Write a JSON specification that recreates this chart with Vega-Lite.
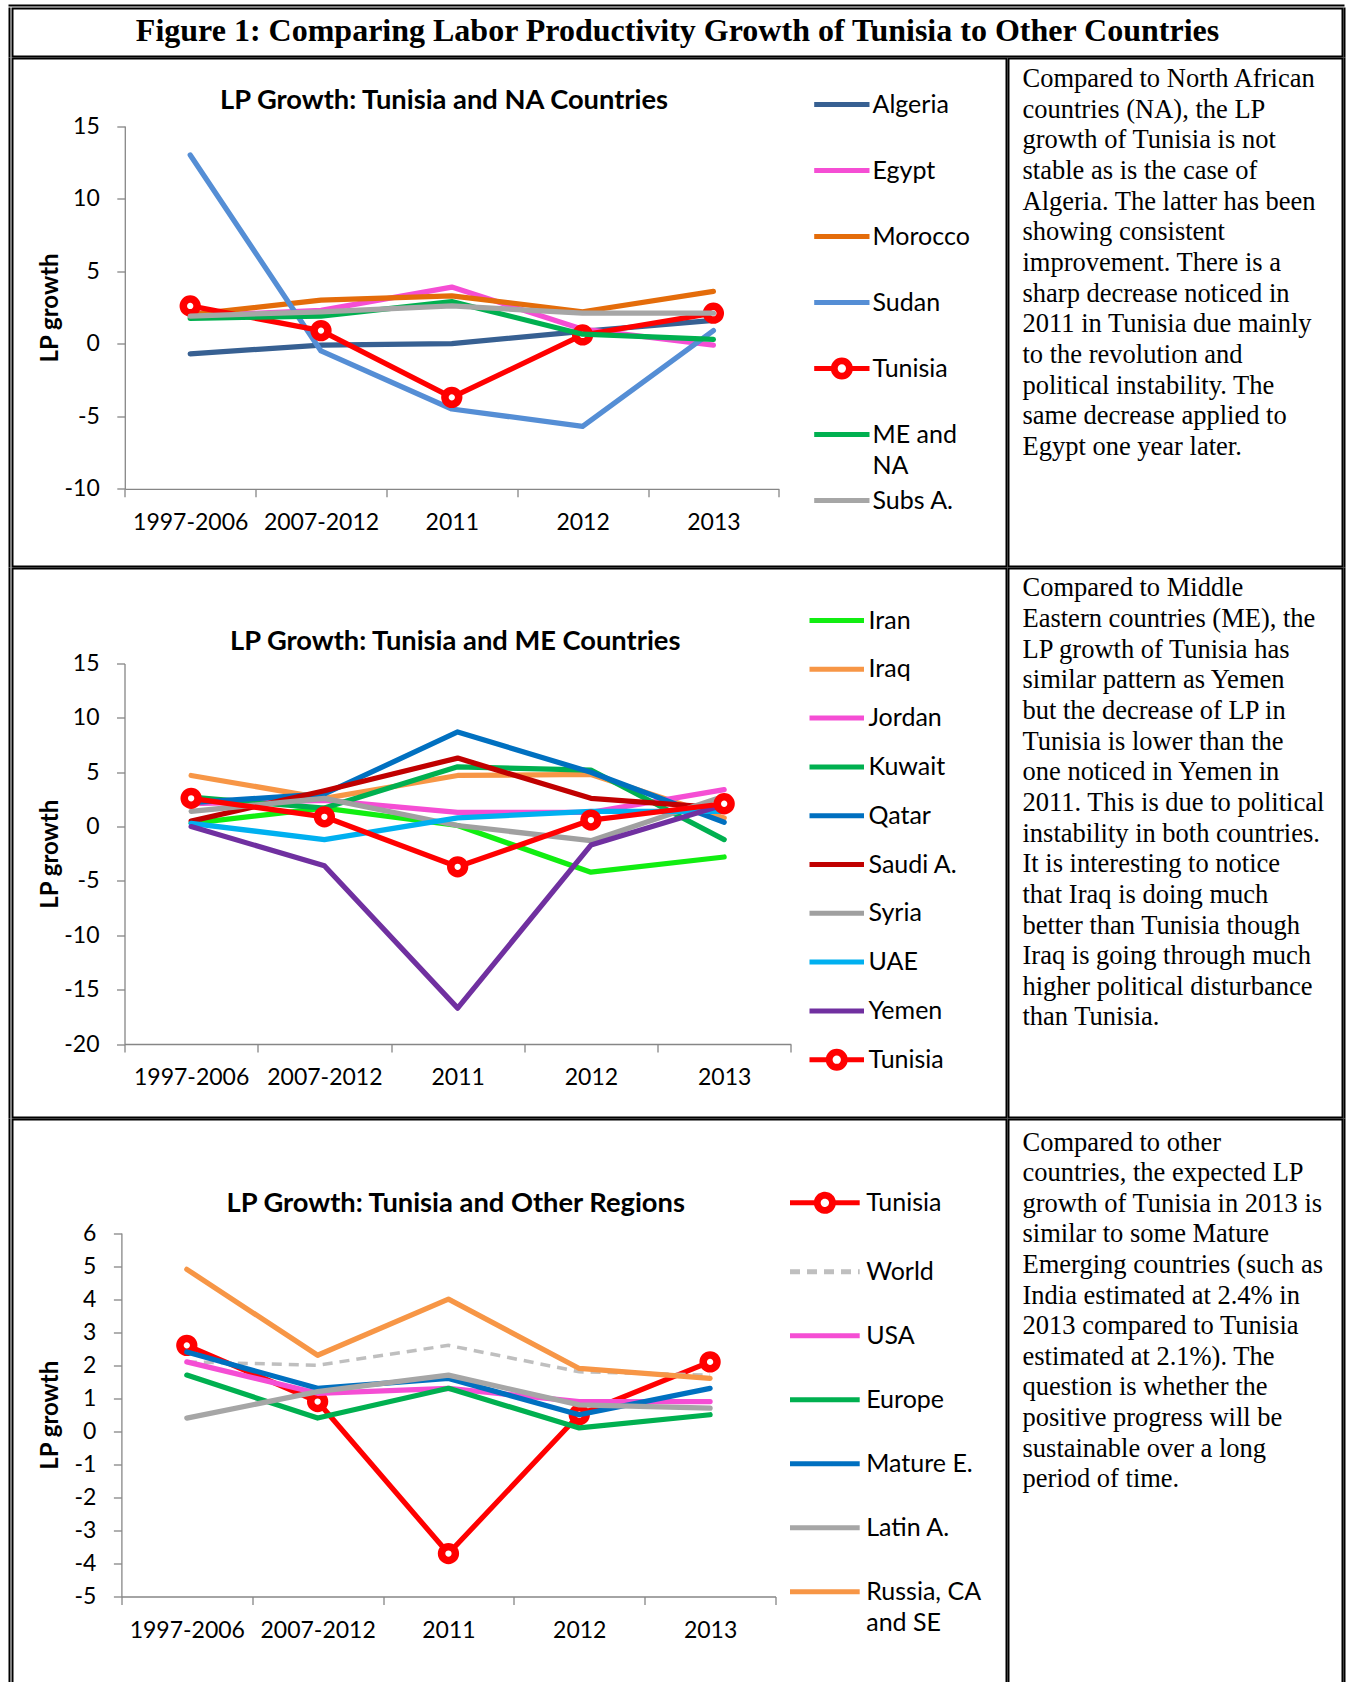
{
"$schema": "https://vega.github.io/schema/vega-lite/v6.json",
"background": "white",
"padding": {"left": 8.5, "top": 4.5, "right": 0, "bottom": 0},
"autosize": {"type": "pad"},
"config": {"view": {"stroke": "black", "strokeWidth": 2}, "font": "Lato"},
"datasets": {
"na": [
{"series":"Algeria","period":"1997-2006","value":-0.7},{"series":"Algeria","period":"2007-2012","value":-0.1},{"series":"Algeria","period":"2011","value":0.0},{"series":"Algeria","period":"2012","value":0.85},{"series":"Algeria","period":"2013","value":1.6},
{"series":"Egypt","period":"1997-2006","value":1.9},{"series":"Egypt","period":"2007-2012","value":2.3},{"series":"Egypt","period":"2011","value":3.9},{"series":"Egypt","period":"2012","value":1.0},{"series":"Egypt","period":"2013","value":-0.1},
{"series":"Morocco","period":"1997-2006","value":2.0},{"series":"Morocco","period":"2007-2012","value":3.0},{"series":"Morocco","period":"2011","value":3.3},{"series":"Morocco","period":"2012","value":2.2},{"series":"Morocco","period":"2013","value":3.6},
{"series":"Sudan","period":"1997-2006","value":13.0},{"series":"Sudan","period":"2007-2012","value":-0.5},{"series":"Sudan","period":"2011","value":-4.5},{"series":"Sudan","period":"2012","value":-5.7},{"series":"Sudan","period":"2013","value":0.9},
{"series":"Tunisia","period":"1997-2006","value":2.6},{"series":"Tunisia","period":"2007-2012","value":0.9},{"series":"Tunisia","period":"2011","value":-3.7},{"series":"Tunisia","period":"2012","value":0.6},{"series":"Tunisia","period":"2013","value":2.1},
{"series":"ME and NA","period":"1997-2006","value":1.75},{"series":"ME and NA","period":"2007-2012","value":1.9},{"series":"ME and NA","period":"2011","value":2.9},{"series":"ME and NA","period":"2012","value":0.65},{"series":"ME and NA","period":"2013","value":0.3},
{"series":"Subs A.","period":"1997-2006","value":1.9},{"series":"Subs A.","period":"2007-2012","value":2.2},{"series":"Subs A.","period":"2011","value":2.6},{"series":"Subs A.","period":"2012","value":2.1},{"series":"Subs A.","period":"2013","value":2.1}
],
"me": [
{"series":"Iran","period":"1997-2006","value":0.3},{"series":"Iran","period":"2007-2012","value":1.7},{"series":"Iran","period":"2011","value":0.1},{"series":"Iran","period":"2012","value":-4.2},{"series":"Iran","period":"2013","value":-2.8},
{"series":"Iraq","period":"1997-2006","value":4.7},{"series":"Iraq","period":"2007-2012","value":2.6},{"series":"Iraq","period":"2011","value":4.7},{"series":"Iraq","period":"2012","value":4.8},{"series":"Iraq","period":"2013","value":0.8},
{"series":"Jordan","period":"1997-2006","value":2.1},{"series":"Jordan","period":"2007-2012","value":2.4},{"series":"Jordan","period":"2011","value":1.3},{"series":"Jordan","period":"2012","value":1.3},{"series":"Jordan","period":"2013","value":3.4},
{"series":"Kuwait","period":"1997-2006","value":2.7},{"series":"Kuwait","period":"2007-2012","value":1.7},{"series":"Kuwait","period":"2011","value":5.5},{"series":"Kuwait","period":"2012","value":5.2},{"series":"Kuwait","period":"2013","value":-1.2},
{"series":"Qatar","period":"1997-2006","value":2.2},{"series":"Qatar","period":"2007-2012","value":3.0},{"series":"Qatar","period":"2011","value":8.7},{"series":"Qatar","period":"2012","value":5.0},{"series":"Qatar","period":"2013","value":0.4},
{"series":"Saudi A.","period":"1997-2006","value":0.5},{"series":"Saudi A.","period":"2007-2012","value":3.3},{"series":"Saudi A.","period":"2011","value":6.3},{"series":"Saudi A.","period":"2012","value":2.6},{"series":"Saudi A.","period":"2013","value":1.7},
{"series":"Syria","period":"1997-2006","value":1.4},{"series":"Syria","period":"2007-2012","value":2.6},{"series":"Syria","period":"2011","value":0.1},{"series":"Syria","period":"2012","value":-1.3},{"series":"Syria","period":"2013","value":2.8},
{"series":"UAE","period":"1997-2006","value":0.3},{"series":"UAE","period":"2007-2012","value":-1.2},{"series":"UAE","period":"2011","value":0.8},{"series":"UAE","period":"2012","value":1.4},{"series":"UAE","period":"2013","value":1.4},
{"series":"Yemen","period":"1997-2006","value":0.0},{"series":"Yemen","period":"2007-2012","value":-3.6},{"series":"Yemen","period":"2011","value":-16.7},{"series":"Yemen","period":"2012","value":-1.7},{"series":"Yemen","period":"2013","value":2.0},
{"series":"Tunisia","period":"1997-2006","value":2.6},{"series":"Tunisia","period":"2007-2012","value":0.9},{"series":"Tunisia","period":"2011","value":-3.7},{"series":"Tunisia","period":"2012","value":0.6},{"series":"Tunisia","period":"2013","value":2.1}
],
"oth": [
{"series":"Tunisia","period":"1997-2006","value":2.6},{"series":"Tunisia","period":"2007-2012","value":0.9},{"series":"Tunisia","period":"2011","value":-3.7},{"series":"Tunisia","period":"2012","value":0.5},{"series":"Tunisia","period":"2013","value":2.1},
{"series":"World","period":"1997-2006","value":2.1},{"series":"World","period":"2007-2012","value":2.0},{"series":"World","period":"2011","value":2.6},{"series":"World","period":"2012","value":1.8},{"series":"World","period":"2013","value":1.7},
{"series":"USA","period":"1997-2006","value":2.1},{"series":"USA","period":"2007-2012","value":1.15},{"series":"USA","period":"2011","value":1.3},{"series":"USA","period":"2012","value":0.9},{"series":"USA","period":"2013","value":0.9},
{"series":"Europe","period":"1997-2006","value":1.7},{"series":"Europe","period":"2007-2012","value":0.4},{"series":"Europe","period":"2011","value":1.3},{"series":"Europe","period":"2012","value":0.1},{"series":"Europe","period":"2013","value":0.5},
{"series":"Mature E.","period":"1997-2006","value":2.4},{"series":"Mature E.","period":"2007-2012","value":1.3},{"series":"Mature E.","period":"2011","value":1.6},{"series":"Mature E.","period":"2012","value":0.5},{"series":"Mature E.","period":"2013","value":1.3},
{"series":"Latin A.","period":"1997-2006","value":0.4},{"series":"Latin A.","period":"2007-2012","value":1.2},{"series":"Latin A.","period":"2011","value":1.7},{"series":"Latin A.","period":"2012","value":0.8},{"series":"Latin A.","period":"2013","value":0.7},
{"series":"Russia, CA and SE","period":"1997-2006","value":4.9},{"series":"Russia, CA and SE","period":"2007-2012","value":2.3},{"series":"Russia, CA and SE","period":"2011","value":4.0},{"series":"Russia, CA and SE","period":"2012","value":1.9},{"series":"Russia, CA and SE","period":"2013","value":1.6}
],
"t1": [
{"line":0,"text":"Compared to North African"},{"line":1,"text":"countries (NA), the LP"},{"line":2,"text":"growth of Tunisia is not"},{"line":3,"text":"stable as is the case of"},{"line":4,"text":"Algeria. The latter has been"},{"line":5,"text":"showing consistent"},{"line":6,"text":"improvement. There is a"},{"line":7,"text":"sharp decrease noticed in"},{"line":8,"text":"2011 in Tunisia due mainly"},{"line":9,"text":"to the revolution and"},{"line":10,"text":"political instability. The"},{"line":11,"text":"same decrease applied to"},{"line":12,"text":"Egypt one year later."}
],
"t2": [
{"line":0,"text":"Compared to Middle"},{"line":1,"text":"Eastern countries (ME), the"},{"line":2,"text":"LP growth of Tunisia has"},{"line":3,"text":"similar pattern as Yemen"},{"line":4,"text":"but the decrease of LP in"},{"line":5,"text":"Tunisia is lower than the"},{"line":6,"text":"one noticed in Yemen in"},{"line":7,"text":"2011. This is due to political"},{"line":8,"text":"instability in both countries."},{"line":9,"text":"It is interesting to notice"},{"line":10,"text":"that Iraq is doing much"},{"line":11,"text":"better than Tunisia though"},{"line":12,"text":"Iraq is going through much"},{"line":13,"text":"higher political disturbance"},{"line":14,"text":"than Tunisia."}
],
"t3": [
{"line":0,"text":"Compared to other"},{"line":1,"text":"countries, the expected LP"},{"line":2,"text":"growth of Tunisia in 2013 is"},{"line":3,"text":"similar to some Mature"},{"line":4,"text":"Emerging countries (such as"},{"line":5,"text":"India estimated at 2.4% in"},{"line":6,"text":"2013 compared to Tunisia"},{"line":7,"text":"estimated at 2.1%). The"},{"line":8,"text":"question is whether the"},{"line":9,"text":"positive progress will be"},{"line":10,"text":"sustainable over a long"},{"line":11,"text":"period of time."}
]
},
"spacing": 0,
"resolve": {"scale": {"color": "independent", "x": "independent", "y": "independent"}, "legend": {"color": "independent"}},
"vconcat": [
{
"width": 1334, "height": 0.01,
"data": {"values": []},
"mark": {"type": "point", "opacity": 0},
"encoding": {"x": {"datum": 0, "type": "quantitative", "axis": null}, "y": {"datum": 0, "type": "quantitative", "axis": null}}
},
{
"hconcat": [
{"width": 0.01, "height": 48, "data": {"values": []}, "mark": {"type": "point", "opacity": 0},
"encoding": {"x": {"datum": 0, "type": "quantitative", "axis": null}, "y": {"datum": 0, "type": "quantitative", "axis": null}}},
{
"width": 1330, "height": 48,
"data": {"values": [{"text": "Figure 1: Comparing Labor Productivity Growth of Tunisia to Other Countries"}]},
"mark": {"type": "text", "font": "Liberation Serif", "fontSize": 32, "fontWeight": "bold", "baseline": "alphabetic", "dy": 8, "color": "black"},
"encoding": {
"x": {"datum": 0.5, "type": "quantitative", "scale": {"domain": [0, 1]}, "axis": null},
"y": {"datum": 0.5, "type": "quantitative", "scale": {"domain": [0, 1]}, "axis": null},
"text": {"field": "text"}}
},
{"width": 0.01, "height": 48, "data": {"values": []}, "mark": {"type": "point", "opacity": 0},
"encoding": {"x": {"datum": 0, "type": "quantitative", "axis": null}, "y": {"datum": 0, "type": "quantitative", "axis": null}}}
],
"spacing": 2, "bounds": "flush"
},
{
"hconcat": [
{"width": 0.01, "height": 508, "data": {"values": []}, "mark": {"type": "point", "opacity": 0},
"encoding": {"x": {"datum": 0, "type": "quantitative", "axis": null}, "y": {"datum": 0, "type": "quantitative", "axis": null}}},
{
"width": 994, "height": 508,
"data": {"name": "na"},
"title": {"text": "LP Growth: Tunisia and NA Countries", "font": "Lato", "fontSize": 27.3, "fontWeight": "bold", "color": "black", "anchor": "middle", "frame": "group", "offset": -77.4, "baseline": "alphabetic", "dx": -65.5},
"encoding": {
"x": {"field": "period", "type": "nominal", "sort": ["1997-2006","2007-2012","2011","2012","2013"],
"scale": {"type": "band", "domain": ["1997-2006","2007-2012","2011","2012","2013"], "paddingInner": 0, "paddingOuter": 0, "range": [112.3, 766.3]},
"axis": {"title": null, "domain": true, "domainColor": "#868686", "domainWidth": 1.3, "grid": false, "tickBand": "extent", "tickSize": 8, "tickColor": "#868686", "tickWidth": 1.3, "labelFont": "Lato", "labelFontSize": 23, "labelColor": "black", "labelPadding": 14.5, "labelAngle": 0, "offset": -77.7}},
"y": {"field": "value", "type": "quantitative",
"scale": {"domain": [-10, 15], "range": [430.3, 67.5], "nice": false, "zero": false},
"axis": {"title": "LP growth", "values": [-10,-5,0,5,10,15], "domain": true, "domainColor": "#868686", "domainWidth": 1.3, "grid": false, "tickSize": 8, "tickColor": "#868686", "tickWidth": 1.3, "labelFont": "Lato", "labelFontSize": 23, "labelColor": "black", "labelPadding": 17.5, "labelExpr": "datum.value + ''", "offset": -112.3, "titleFont": "Lato", "titleFontSize": 24, "titleFontWeight": "bold", "titleColor": "black", "titleAngle": -90, "titleAlign": "center", "titleBaseline": "alphabetic", "titleX": -67.5, "titleY": 248.9}}
},
"layer": [
{"transform": [{"filter": {"field": "series", "oneOf": ["Algeria","Egypt","Morocco","Sudan"]}}],
"mark": {"type": "line", "strokeWidth": 5.25, "strokeJoin": "round", "strokeCap": "round"},
"encoding": {"color": {"field": "series", "type": "nominal",
"scale": {"domain": ["Algeria","Egypt","Morocco","Sudan","Tunisia","ME and NA","Subs A."], "range": ["#376092","#F54ED4","#E46C0A","#558ED5","#FF0000","#00B050","#A6A6A6"]},
"legend": {"orient": "none", "legendX": 801.85, "legendY": 32, "title": null, "padding": 0, "symbolType": "stroke", "symbolSize": 3058, "symbolStrokeWidth": 5, "labelFont": "Lato", "labelFontSize": 25, "labelColor": "black", "labelOffset": 0.15, "labelLimit": 400, "rowPadding": 3, "gridAlign": "all",
"labelExpr": "datum.label === 'ME and NA' ? ['ME and', 'NA'] : datum.label",
"encode": {"symbols": {"update": {"y": {"value": 14}, "shape": {"signal": "datum.value === 'Tunisia' ? 'M-1,0L-0.3,0M0.3,0L1,0M0.3074,0A0.3074,0.3074,0,1,1,-0.3074,0A0.3074,0.3074,0,1,1,0.3074,0ZM0.2405,0A0.2405,0.2405,0,1,0,-0.2405,0A0.2405,0.2405,0,1,0,0.2405,0Z' : 'stroke'"}, "fill": {"signal": "datum.value === 'Tunisia' ? '#FF0000' : 'transparent'"}, "opacity": {"value": 1}}},
"labels": {"update": {"y": {"value": 14}, "lineHeight": {"value": 31}}}}}}}},
{"transform": [{"filter": {"field": "series", "equal": "Tunisia"}}],
"mark": {"type": "line", "strokeWidth": 5.25, "strokeJoin": "round", "strokeCap": "round"},
"encoding": {"color": {"field": "series", "type": "nominal"}}},
{"transform": [{"filter": {"field": "series", "equal": "Tunisia"}}],
"mark": {"type": "point", "shape": "circle", "filled": true, "fill": "white", "stroke": "#FF0000", "strokeWidth": 7.5, "size": 190, "opacity": 1}},
{"transform": [{"filter": {"field": "series", "oneOf": ["ME and NA","Subs A."]}}],
"mark": {"type": "line", "strokeWidth": 5.25, "strokeJoin": "round", "strokeCap": "round"},
"encoding": {"color": {"field": "series", "type": "nominal"}}}
]
},
{
"width": 334, "height": 508,
"data": {"name": "t1"},
"mark": {"type": "text", "font": "Liberation Serif", "fontSize": 26.5, "align": "left", "baseline": "alphabetic", "dx": 14, "color": "black"},
"encoding": {
"x": {"datum": 0, "type": "quantitative", "scale": {"domain": [0, 1]}, "axis": null},
"y": {"field": "line", "type": "quantitative", "scale": {"domain": [-0.937, 15.648], "nice": false, "zero": false, "reverse": true}, "axis": null},
"text": {"field": "text"}}
},
{"width": 0.01, "height": 508, "data": {"values": []}, "mark": {"type": "point", "opacity": 0},
"encoding": {"x": {"datum": 0, "type": "quantitative", "axis": null}, "y": {"datum": 0, "type": "quantitative", "axis": null}}}
],
"spacing": 2, "bounds": "flush"
},
{
"hconcat": [
{"width": 0.01, "height": 549, "data": {"values": []}, "mark": {"type": "point", "opacity": 0},
"encoding": {"x": {"datum": 0, "type": "quantitative", "axis": null}, "y": {"datum": 0, "type": "quantitative", "axis": null}}},
{
"width": 994, "height": 549,
"data": {"name": "me"},
"title": {"text": "LP Growth: Tunisia and ME Countries", "font": "Lato", "fontSize": 27.3, "fontWeight": "bold", "color": "black", "anchor": "middle", "frame": "group", "offset": -109.1, "baseline": "alphabetic", "dx": -54.3},
"encoding": {
"x": {"field": "period", "type": "nominal", "sort": ["1997-2006","2007-2012","2011","2012","2013"],
"scale": {"type": "band", "domain": ["1997-2006","2007-2012","2011","2012","2013"], "paddingInner": 0, "paddingOuter": 0, "range": [112, 778.3]},
"axis": {"title": null, "domain": true, "domainColor": "#868686", "domainWidth": 1.3, "grid": false, "tickBand": "extent", "tickSize": 8, "tickColor": "#868686", "tickWidth": 1.3, "labelFont": "Lato", "labelFontSize": 23, "labelColor": "black", "labelPadding": 14.5, "labelAngle": 0, "offset": -73.5}},
"y": {"field": "value", "type": "quantitative",
"scale": {"domain": [-20, 15], "range": [475.5, 95], "nice": false, "zero": false},
"axis": {"title": "LP growth", "values": [-20,-15,-10,-5,0,5,10,15], "domain": true, "domainColor": "#868686", "domainWidth": 1.3, "grid": false, "tickSize": 8, "tickColor": "#868686", "tickWidth": 1.3, "labelFont": "Lato", "labelFontSize": 23, "labelColor": "black", "labelPadding": 17.5, "labelExpr": "datum.value + ''", "offset": -112, "titleFont": "Lato", "titleFontSize": 24, "titleFontWeight": "bold", "titleColor": "black", "titleAngle": -90, "titleAlign": "center", "titleBaseline": "alphabetic", "titleX": -67.2, "titleY": 285.25}}
},
"layer": [
{"transform": [{"filter": {"field": "series", "oneOf": ["Iran","Iraq","Jordan","Kuwait","Qatar","Saudi A.","Syria","UAE","Yemen"]}}],
"mark": {"type": "line", "strokeWidth": 5.25, "strokeJoin": "round", "strokeCap": "round"},
"encoding": {"color": {"field": "series", "type": "nominal",
"scale": {"domain": ["Iran","Iraq","Jordan","Kuwait","Qatar","Saudi A.","Syria","UAE","Yemen","Tunisia"], "range": ["#11EE11","#F79646","#F54ED4","#00B050","#0070C0","#C00000","#A0A0A0","#00B0F0","#7030A0","#FF0000"]},
"legend": {"orient": "none", "legendX": 797.25, "legendY": 22, "title": null, "padding": 0, "symbolType": "stroke", "symbolSize": 2970, "symbolStrokeWidth": 5, "labelFont": "Lato", "labelFontSize": 25, "labelColor": "black", "labelOffset": 1.75, "labelLimit": 400, "rowPadding": 5.8,
"encode": {"symbols": {"update": {"shape": {"signal": "datum.value === 'Tunisia' ? 'M-1,0L-0.3,0M0.3,0L1,0M0.3119,0A0.3119,0.3119,0,1,1,-0.3119,0A0.3119,0.3119,0,1,1,0.3119,0ZM0.244,0A0.244,0.244,0,1,0,-0.244,0A0.244,0.244,0,1,0,0.244,0Z' : 'stroke'"}, "fill": {"signal": "datum.value === 'Tunisia' ? '#FF0000' : 'transparent'"}, "opacity": {"value": 1}}}}}}}},
{"transform": [{"filter": {"field": "series", "equal": "Tunisia"}}],
"mark": {"type": "line", "strokeWidth": 5.25, "strokeJoin": "round", "strokeCap": "round"},
"encoding": {"color": {"field": "series", "type": "nominal"}}},
{"transform": [{"filter": {"field": "series", "equal": "Tunisia"}}],
"mark": {"type": "point", "shape": "circle", "filled": true, "fill": "white", "stroke": "#FF0000", "strokeWidth": 7.5, "size": 190, "opacity": 1}}
]
},
{
"width": 334, "height": 549,
"data": {"name": "t2"},
"mark": {"type": "text", "font": "Liberation Serif", "fontSize": 26.5, "align": "left", "baseline": "alphabetic", "dx": 14, "color": "black"},
"encoding": {
"x": {"datum": 0, "type": "quantitative", "scale": {"domain": [0, 1]}, "axis": null},
"y": {"field": "line", "type": "quantitative", "scale": {"domain": [-0.9138, 17.004], "nice": false, "zero": false, "reverse": true}, "axis": null},
"text": {"field": "text"}}
},
{"width": 0.01, "height": 549, "data": {"values": []}, "mark": {"type": "point", "opacity": 0},
"encoding": {"x": {"datum": 0, "type": "quantitative", "axis": null}, "y": {"datum": 0, "type": "quantitative", "axis": null}}}
],
"spacing": 2, "bounds": "flush"
},
{
"hconcat": [
{"width": 0.01, "height": 580, "data": {"values": []}, "mark": {"type": "point", "opacity": 0},
"encoding": {"x": {"datum": 0, "type": "quantitative", "axis": null}, "y": {"datum": 0, "type": "quantitative", "axis": null}}},
{
"width": 994, "height": 580,
"data": {"name": "oth"},
"title": {"text": "LP Growth: Tunisia and Other Regions", "font": "Lato", "fontSize": 27.3, "fontWeight": "bold", "color": "black", "anchor": "middle", "frame": "group", "offset": -119.5, "baseline": "alphabetic", "dx": -53.8},
"encoding": {
"x": {"field": "period", "type": "nominal", "sort": ["1997-2006","2007-2012","2011","2012","2013"],
"scale": {"type": "band", "domain": ["1997-2006","2007-2012","2011","2012","2013"], "paddingInner": 0, "paddingOuter": 0, "range": [108.9, 763]},
"axis": {"title": null, "domain": true, "domainColor": "#868686", "domainWidth": 1.3, "grid": false, "tickBand": "extent", "tickSize": 8, "tickColor": "#868686", "tickWidth": 1.3, "labelFont": "Lato", "labelFontSize": 23, "labelColor": "black", "labelPadding": 14.5, "labelAngle": 0, "offset": -103}},
"y": {"field": "value", "type": "quantitative",
"scale": {"domain": [-5, 6], "range": [477, 113.5], "nice": false, "zero": false},
"axis": {"title": "LP growth", "values": [-5,-4,-3,-2,-1,0,1,2,3,4,5,6], "domain": true, "domainColor": "#868686", "domainWidth": 1.3, "grid": false, "tickSize": 8, "tickColor": "#868686", "tickWidth": 1.3, "labelFont": "Lato", "labelFontSize": 23, "labelColor": "black", "labelPadding": 17.5, "labelExpr": "datum.value + ''", "offset": -108.9, "titleFont": "Lato", "titleFontSize": 24, "titleFontWeight": "bold", "titleColor": "black", "titleAngle": -90, "titleAlign": "center", "titleBaseline": "alphabetic", "titleX": -63.9, "titleY": 295.25}}
},
"layer": [
{"transform": [{"filter": {"field": "series", "equal": "Tunisia"}}],
"mark": {"type": "line", "strokeWidth": 5.25, "strokeJoin": "round", "strokeCap": "round"},
"encoding": {"color": {"field": "series", "type": "nominal",
"scale": {"domain": ["Tunisia","World","USA","Europe","Mature E.","Latin A.","Russia, CA and SE"], "range": ["#FF0000","#BFBFBF","#F54ED4","#00B050","#0070C0","#A6A6A6","#F79646"]},
"legend": {"orient": "none", "legendX": 777.85, "legendY": 45.8, "title": null, "padding": 0, "symbolType": "stroke", "symbolSize": 4858, "symbolStrokeWidth": 5, "labelFont": "Lato", "labelFontSize": 25, "labelColor": "black", "labelOffset": 3.85, "labelLimit": 400, "rowPadding": 13,
"labelExpr": "datum.label === 'Russia, CA and SE' ? ['Russia, CA', 'and SE'] : datum.label",
"encode": {"symbols": {"update": {"shape": {"signal": "datum.value === 'Tunisia' ? 'M-1,0L-0.24,0M0.24,0L1,0M0.2439,0A0.2439,0.2439,0,1,1,-0.2439,0A0.2439,0.2439,0,1,1,0.2439,0ZM0.1908,0A0.1908,0.1908,0,1,0,-0.1908,0A0.1908,0.1908,0,1,0,0.1908,0Z' : 'stroke'"}, "fill": {"signal": "datum.value === 'Tunisia' ? '#FF0000' : 'transparent'"}, "strokeDash": {"signal": "datum.value === 'World' ? [10, 7] : [1, 0]"}, "opacity": {"value": 1}}},
"labels": {"update": {"lineHeight": {"value": 31}}}}}}}},
{"transform": [{"filter": {"field": "series", "equal": "Tunisia"}}],
"mark": {"type": "point", "shape": "circle", "filled": true, "fill": "white", "stroke": "#FF0000", "strokeWidth": 7.5, "size": 190, "opacity": 1}},
{"transform": [{"filter": {"field": "series", "equal": "World"}}],
"mark": {"type": "line", "strokeWidth": 3.5, "strokeDash": [10, 7]},
"encoding": {"color": {"field": "series", "type": "nominal"}}},
{"transform": [{"filter": {"field": "series", "oneOf": ["USA","Europe","Mature E.","Latin A.","Russia, CA and SE"]}}],
"mark": {"type": "line", "strokeWidth": 5.25, "strokeJoin": "round", "strokeCap": "round"},
"encoding": {"color": {"field": "series", "type": "nominal"}}}
]
},
{
"width": 334, "height": 580,
"data": {"name": "t3"},
"mark": {"type": "text", "font": "Liberation Serif", "fontSize": 26.5, "align": "left", "baseline": "alphabetic", "dx": 14, "color": "black"},
"encoding": {
"x": {"datum": 0, "type": "quantitative", "scale": {"domain": [0, 1]}, "axis": null},
"y": {"field": "line", "type": "quantitative", "scale": {"domain": [-1.0131, 17.941], "nice": false, "zero": false, "reverse": true}, "axis": null},
"text": {"field": "text"}}
},
{"width": 0.01, "height": 580, "data": {"values": []}, "mark": {"type": "point", "opacity": 0},
"encoding": {"x": {"datum": 0, "type": "quantitative", "axis": null}, "y": {"datum": 0, "type": "quantitative", "axis": null}}}
],
"spacing": 2, "bounds": "flush"
}
]
}
